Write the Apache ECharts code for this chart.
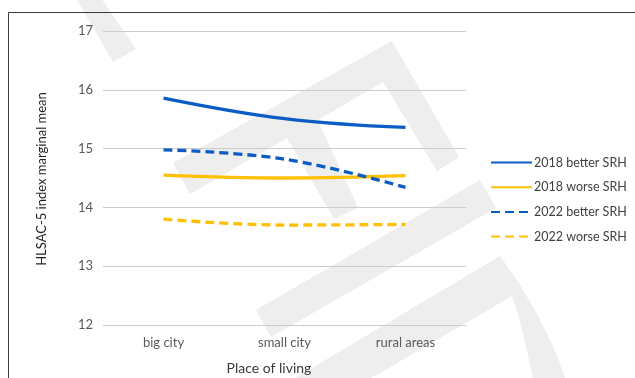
<!DOCTYPE html>
<html>
<head>
<meta charset="utf-8">
<script src="https://cdn.jsdelivr.net/npm/echarts@6/dist/echarts.min.js"></script>
<style>
  html, body { margin: 0; padding: 0; background: #ffffff; }
  #chart { width: 635px; height: 378px; }
</style>
</head>
<body>
<div id="chart"></div>
<script>
// Place of living categories
const categories = ['big city', 'small city', 'rural areas'];

// HLSAC-5 index marginal means
const better2018 = [15.86, 15.51, 15.36];
const worse2018  = [14.55, 14.50, 14.54];
const better2022 = [14.98, 14.82, 14.34];
const worse2022  = [13.80, 13.70, 13.71];

const seriesNames = ['2018 better SRH', '2018 worse SRH', '2022 better SRH', '2022 worse SRH'];
const yTicks = { min: 12, max: 17, step: 1 };

const BLUE = '#0b5cc5';
const GOLD = '#ffc000';
const FONT = 'Lato, "Open Sans", sans-serif';

// light grey background lettering
const WM = '#eeeeee';
const watermark = [
  [[76, -2], [101, -2], [136, 49], [113, 62]],
  [[392, 41], [459, 157], [437, 171], [383, 82], [318, 120], [358, 208],
   [334, 219], [287, 138], [190, 194], [173, 163]],
  [[256, 310], [480, 180], [496, 208], [271, 337]],
  [[292, 380], [500, 256], [519, 283], [537, 314], [553, 346], [566, 380],
   [533, 380], [528, 355], [523, 333], [518, 314], [512, 296], [368, 380]]
];

const chart = echarts.init(document.getElementById('chart'), null, { renderer: 'canvas' });

function lineSeries(name, data, color, dashed) {
  return {
    name: name,
    type: 'line',
    data: data,
    smooth: 0.4,
    symbol: 'none',
    z: 3,
    lineStyle: { color: color, width: 3.3, type: dashed ? [9, 5] : 'solid' },
    itemStyle: { color: color }
  };
}

const graphics = watermark.map(pts => ({
  type: 'polygon',
  z: -10,
  silent: true,
  shape: { points: pts },
  style: { fill: WM }
}));

// chart frame
graphics.push({
  type: 'rect',
  z: 10,
  silent: true,
  shape: { x: 8.5, y: 12.5, width: 640, height: 380 },
  style: { fill: 'none', stroke: '#3c3c3c', lineWidth: 1 }
});

// axis titles
graphics.push({
  type: 'text',
  z: 10,
  x: 42,
  y: 179,
  rotation: Math.PI / 2,
  style: {
    text: 'HLSAC-5 index marginal mean',
    font: '13px ' + FONT,
    fill: '#1f1f1f',
    align: 'center',
    verticalAlign: 'middle'
  }
});
graphics.push({
  type: 'text',
  z: 10,
  x: 269,
  y: 368,
  style: {
    text: 'Place of living',
    font: '14px ' + FONT,
    fill: '#3a3a3a',
    align: 'center',
    verticalAlign: 'middle'
  }
});

const option = {
  backgroundColor: '#ffffff',
  animation: false,
  grid: { left: 103, right: 169, top: 31, bottom: 53, containLabel: false },
  xAxis: {
    type: 'category',
    data: categories,
    boundaryGap: true,
    axisLine: { show: false },
    axisTick: { show: false },
    axisLabel: { color: '#595959', fontFamily: FONT, fontSize: 13, margin: 11 }
  },
  yAxis: {
    type: 'value',
    min: yTicks.min,
    max: yTicks.max,
    interval: yTicks.step,
    axisLine: { show: false },
    axisTick: { show: false },
    axisLabel: { color: '#595959', fontFamily: FONT, fontSize: 13, margin: 10 },
    splitLine: { lineStyle: { color: '#cccccc', width: 1 } }
  },
  legend: {
    orient: 'vertical',
    left: 490,
    top: 156,
    padding: 0,
    itemWidth: 41,
    itemHeight: 14,
    itemGap: 11.7,
    data: seriesNames,
    itemStyle: { opacity: 0 },
    textStyle: { color: '#404040', fontFamily: FONT, fontSize: 12.5, padding: [0, 0, 0, -3] }
  },
  graphic: graphics,
  series: [
    lineSeries(seriesNames[0], better2018, BLUE, false),
    lineSeries(seriesNames[1], worse2018, GOLD, false),
    lineSeries(seriesNames[2], better2022, BLUE, true),
    lineSeries(seriesNames[3], worse2022, GOLD, true)
  ]
};

chart.setOption(option);
</script>
</body>
</html>
